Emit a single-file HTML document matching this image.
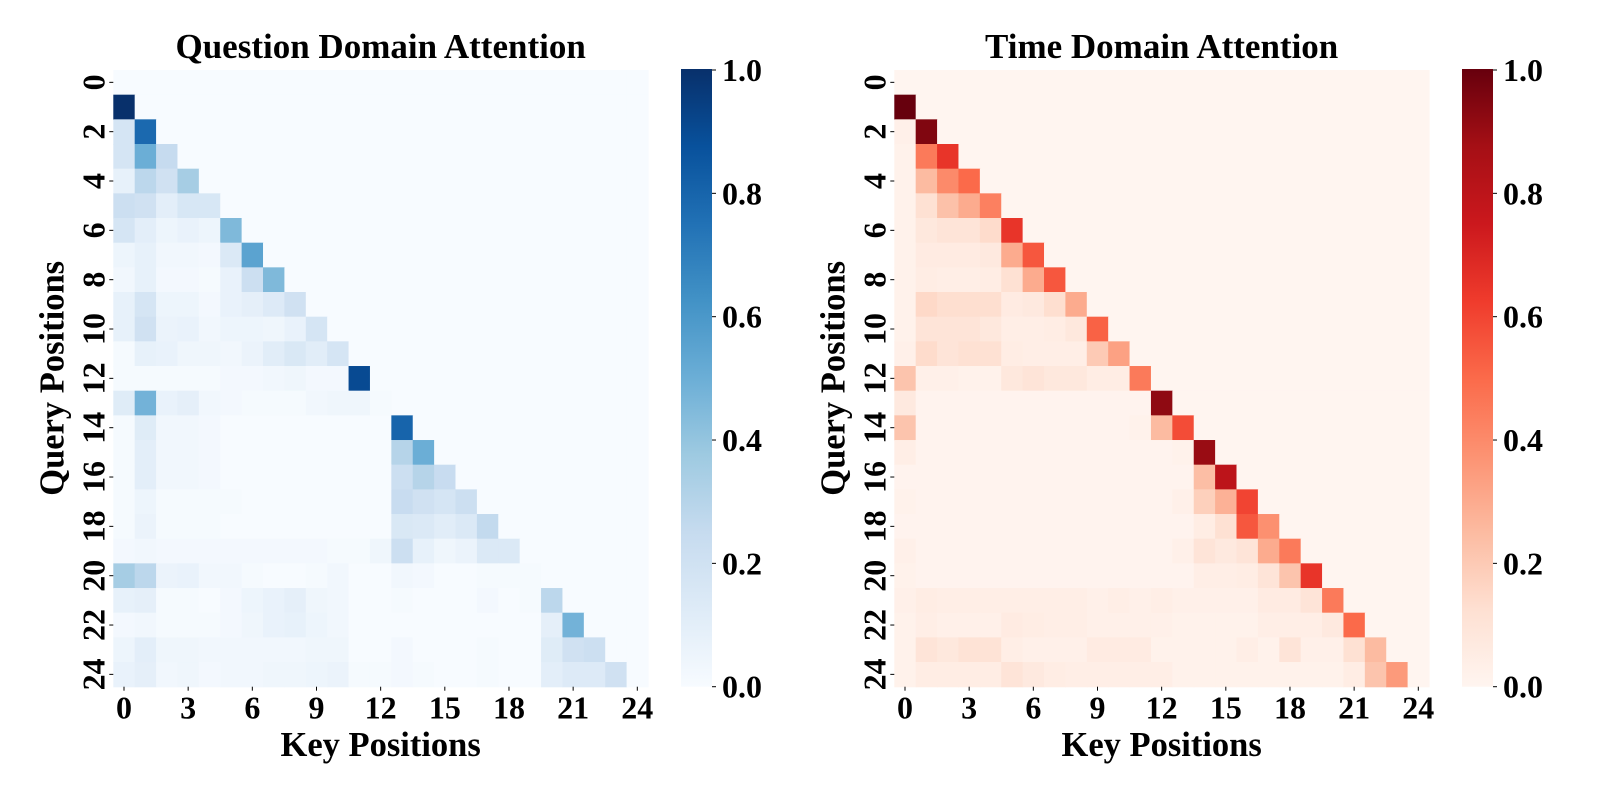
<!DOCTYPE html>
<html>
<head>
<meta charset="utf-8">
<style>
  html,body{margin:0;padding:0;background:#fff;}
  svg{display:block;}
  text{font-family:"Liberation Serif","DejaVu Serif",serif;font-weight:bold;fill:#000;}
</style>
</head>
<body>
<svg id="fig" width="1600" height="800" viewBox="0 0 1600 800" xmlns="http://www.w3.org/2000/svg">
  <defs>
    <linearGradient id="gBlues" x1="0" y1="1" x2="0" y2="0">
      <stop offset="0" stop-color="#f7fbff"/><stop offset="0.125" stop-color="#deebf7"/>
      <stop offset="0.25" stop-color="#c6dbef"/><stop offset="0.375" stop-color="#9ecae1"/>
      <stop offset="0.5" stop-color="#6baed6"/><stop offset="0.625" stop-color="#4292c6"/>
      <stop offset="0.75" stop-color="#2171b5"/><stop offset="0.875" stop-color="#08519c"/>
      <stop offset="1" stop-color="#08306b"/>
    </linearGradient>
    <linearGradient id="gReds" x1="0" y1="1" x2="0" y2="0">
      <stop offset="0" stop-color="#fff5f0"/><stop offset="0.125" stop-color="#fee0d2"/>
      <stop offset="0.25" stop-color="#fcbba1"/><stop offset="0.375" stop-color="#fc9272"/>
      <stop offset="0.5" stop-color="#fb6a4a"/><stop offset="0.625" stop-color="#ef3b2c"/>
      <stop offset="0.75" stop-color="#cb181d"/><stop offset="0.875" stop-color="#a50f15"/>
      <stop offset="1" stop-color="#67000d"/>
    </linearGradient>
  </defs>
  <g id="left"></g>
  <g id="right"></g>
</svg>
<script>
// ---- data ----
const positions = Array.from({length: 25}, (_, i) => i);
const xTickLabels = ["0","3","6","9","12","15","18","21","24"];
const yTickLabels = ["0","2","4","6","8","10","12","14","16","18","20","22","24"];
const cbarTickLabels = ["0.0","0.2","0.4","0.6","0.8","1.0"];

const questionAttention = [
  [],
  [1.0],
  [0.17,0.78],
  [0.17,0.5,0.25],
  [0.08,0.28,0.2,0.35],
  [0.22,0.2,0.1,0.16,0.16],
  [0.17,0.1,0.05,0.07,0.05,0.45],
  [0.05,0.08,0.03,0.03,0.02,0.14,0.55],
  [0.03,0.08,0.02,0.02,0.01,0.07,0.22,0.45],
  [0.08,0.17,0.05,0.05,0.02,0.07,0.09,0.13,0.2],
  [0.08,0.2,0.06,0.07,0.03,0.05,0.05,0.04,0.07,0.17],
  [0.01,0.08,0.07,0.04,0.04,0.03,0.06,0.11,0.15,0.11,0.17],
  [0.01,0.01,0.01,0.01,0.01,0.02,0.02,0.03,0.04,0.02,0.02,0.9],
  [0.12,0.48,0.07,0.09,0.03,0.02,0.01,0.01,0.01,0.03,0.04,0.04,0.01],
  [0.01,0.12,0.03,0.03,0.02,0,0,0,0,0,0,0,0,0.8],
  [0.01,0.1,0.03,0.03,0.02,0,0,0,0,0,0,0,0,0.3,0.5],
  [0.01,0.1,0.03,0.03,0.02,0,0,0,0,0,0,0,0,0.22,0.3,0.24],
  [0.01,0.05,0.01,0.01,0.01,0.01,0,0,0,0,0,0,0,0.24,0.2,0.17,0.22],
  [0.01,0.06,0.01,0.01,0.01,0,0,0,0,0,0,0,0,0.15,0.14,0.11,0.14,0.26],
  [0.02,0.03,0.02,0.02,0.02,0.02,0.02,0.02,0.02,0.02,0.01,0.01,0.04,0.22,0.08,0.04,0.06,0.14,0.14],
  [0.35,0.28,0.06,0.07,0.03,0.03,0.01,0,0,0.01,0.03,0,0,0.03,0.02,0,0,0.01,0.01,0.01],
  [0.08,0.09,0.01,0.01,0,0.02,0.05,0.07,0.09,0.04,0.03,0,0,0.01,0,0,0,0.02,0,0.01,0.28],
  [0.02,0.03,0.01,0.01,0.01,0.02,0.04,0.07,0.08,0.05,0.03,0,0,0,0,0,0,0,0,0,0.09,0.48],
  [0.05,0.1,0.04,0.04,0.03,0.03,0.03,0.03,0.03,0.04,0.04,0,0,0.02,0,0,0,0.01,0,0,0.12,0.2,0.22],
  [0.07,0.09,0.03,0.04,0.02,0.03,0.03,0.04,0.04,0.05,0.06,0.01,0.01,0.02,0.01,0,0,0.01,0,0,0.1,0.13,0.13,0.2]
];

const timeAttention = [
  [],
  [1.0],
  [0.03,0.95],
  [0.02,0.45,0.65],
  [0.02,0.25,0.4,0.5],
  [0.02,0.12,0.23,0.3,0.43],
  [0.02,0.08,0.1,0.1,0.14,0.65],
  [0.02,0.06,0.06,0.06,0.07,0.3,0.55],
  [0.02,0.05,0.04,0.04,0.05,0.12,0.3,0.55],
  [0.02,0.15,0.13,0.13,0.13,0.06,0.07,0.13,0.3],
  [0.02,0.1,0.1,0.1,0.08,0.04,0.04,0.05,0.08,0.52],
  [0.03,0.14,0.1,0.12,0.12,0.05,0.04,0.04,0.04,0.2,0.33],
  [0.22,0.03,0.03,0.02,0.02,0.08,0.1,0.08,0.08,0.05,0.05,0.45],
  [0.07,0.01,0.01,0.01,0.01,0.01,0.01,0.01,0.01,0.01,0.01,0.01,0.92],
  [0.22,0.01,0.01,0.01,0.01,0.01,0.01,0.01,0.01,0.01,0.01,0.02,0.25,0.58],
  [0.04,0.01,0.01,0.01,0.01,0.01,0.01,0.01,0.01,0.01,0.01,0.01,0.01,0.02,0.9],
  [0.01,0.01,0.01,0.01,0.01,0.01,0.01,0.01,0.01,0.01,0.01,0.01,0.01,0.01,0.24,0.8],
  [0.02,0.01,0.01,0.01,0.01,0.01,0.01,0.01,0.01,0.01,0.01,0.01,0.01,0.03,0.18,0.28,0.6],
  [0.01,0.01,0.01,0.01,0.01,0.01,0.01,0.01,0.01,0.01,0.01,0.01,0.01,0.01,0.05,0.12,0.55,0.38],
  [0.03,0.01,0.01,0.01,0.01,0.01,0.01,0.01,0.01,0.01,0.01,0.01,0.01,0.03,0.1,0.07,0.1,0.3,0.45],
  [0.02,0.01,0.01,0.01,0.01,0.01,0.01,0.01,0.01,0.01,0.01,0.01,0.01,0.01,0.04,0.04,0.05,0.1,0.22,0.65],
  [0.03,0.05,0.04,0.04,0.04,0.04,0.04,0.04,0.04,0.03,0.04,0.03,0.04,0.03,0.03,0.03,0.03,0.06,0.06,0.1,0.45],
  [0.02,0.04,0.03,0.03,0.03,0.06,0.05,0.04,0.04,0.03,0.03,0.03,0.03,0.02,0.02,0.02,0.02,0.04,0.04,0.04,0.07,0.5],
  [0.02,0.1,0.08,0.11,0.11,0.04,0.03,0.03,0.03,0.06,0.06,0.06,0.02,0.02,0.02,0.02,0.04,0.02,0.1,0.03,0.03,0.12,0.25],
  [0.02,0.05,0.05,0.05,0.05,0.1,0.07,0.05,0.04,0.04,0.04,0.04,0.04,0.02,0.02,0.02,0.02,0.02,0.02,0.02,0.02,0.05,0.22,0.35]
];

// ---- rendering ----
const NS = "http://www.w3.org/2000/svg";
const BLUES = ["#f7fbff","#deebf7","#c6dbef","#9ecae1","#6baed6","#4292c6","#2171b5","#08519c","#08306b"];
const REDS  = ["#fff5f0","#fee0d2","#fcbba1","#fc9272","#fb6a4a","#ef3b2c","#cb181d","#a50f15","#67000d"];
function hex(c){return [1,3,5].map(i=>parseInt(c.substr(i,2),16));}
function cmap(stops, v){
  v = Math.max(0, Math.min(1, v));
  const p = v*(stops.length-1), i = Math.min(Math.floor(p), stops.length-2), t = p-i;
  const a = hex(stops[i]), b = hex(stops[i+1]);
  return "rgb(" + a.map((x,k)=>Math.round(x+(b[k]-x)*t)).join(",") + ")";
}
function mk(tag, attrs, parent){
  const e = document.createElementNS(NS, tag);
  for (const k in attrs) e.setAttribute(k, attrs[k]);
  parent.appendChild(e);
  return e;
}

const TOP = 70, BOTTOM = 686.7, HM_W = 534.7;
const CELL_H = (BOTTOM-TOP)/25, CELL_W = HM_W/25;

function drawPanel(g, left, matrix, stops, gradId, title, cbarLeft){
  const xScale = c => left + c*CELL_W;
  const yScale = r => TOP + r*CELL_H;
  const vScale = v => BOTTOM - v*(BOTTOM-TOP);

  const t = mk("text", {x: left+HM_W/2, y: 58, "text-anchor":"middle", "font-size": 35}, g);
  t.textContent = title;
  
  

  const cells = mk("g", {}, g);
  
  
  positions.forEach(r => {
    positions.forEach(c => {
      const v = (matrix[r] && matrix[r][c] !== undefined) ? matrix[r][c] : 0;
      const rect = mk("rect", {x: xScale(c), y: yScale(r), width: CELL_W+0.6, height: CELL_H+0.6, fill: cmap(stops, v)}, cells);
      
      
    });
  });

  xTickLabels.forEach(lbl => {
    const c = +lbl, x = xScale(c) + CELL_W/2;
    const tk = mk("line", {x1:x, x2:x, y1:BOTTOM, y2:BOTTOM+4, stroke:"#000", "stroke-width":1}, g);
    
    
    const tx = mk("text", {x:x, y:BOTTOM+32, "text-anchor":"middle", "font-size":32}, g);
    tx.textContent = lbl;
    
    
  });
  yTickLabels.forEach(lbl => {
    const r = +lbl, y = yScale(r) + CELL_H/2;
    const tk = mk("line", {x1:left-4, x2:left, y1:y, y2:y, stroke:"#000", "stroke-width":1}, g);
    
    
    const cx = left - 20;
    const tx = mk("text", {x:cx, y:y, "text-anchor":"middle", "dominant-baseline":"central", "font-size":32, transform:"rotate(-90 "+cx+" "+y+")"}, g);
    tx.textContent = lbl;
    
    
  });

  const xl = mk("text", {x:left+HM_W/2, y:756, "text-anchor":"middle", "font-size":34.5}, g);
  xl.textContent = "Key Positions";
  
  
  const ycx = left-61, ycy = (TOP+BOTTOM)/2;
  const yl = mk("text", {x:ycx, y:ycy, "text-anchor":"middle", "dominant-baseline":"central", "font-size":34.5, transform:"rotate(-90 "+ycx+" "+ycy+")"}, g);
  yl.textContent = "Query Positions";
  
  

  const cb = mk("rect", {x:cbarLeft, y:TOP-1, width:31, height:BOTTOM-TOP+1, fill:"url(#"+gradId+")"}, g);
  
  
  cbarTickLabels.forEach(lbl => {
    const y = vScale(+lbl);
    const tk = mk("line", {x1:cbarLeft+31, x2:cbarLeft+35, y1:y, y2:y, stroke:"#000", "stroke-width":1}, g);
    
    
    const tx = mk("text", {x:cbarLeft+41, y:y, "dominant-baseline":"central", "font-size":32}, g);
    tx.textContent = lbl;
    
    
  });
}

drawPanel(document.getElementById("left"), 113.3, questionAttention, BLUES, "gBlues", "Question Domain Attention", 681);
drawPanel(document.getElementById("right"), 894.3, timeAttention, REDS, "gReds", "Time Domain Attention", 1462);
</script>
</body>
</html>
